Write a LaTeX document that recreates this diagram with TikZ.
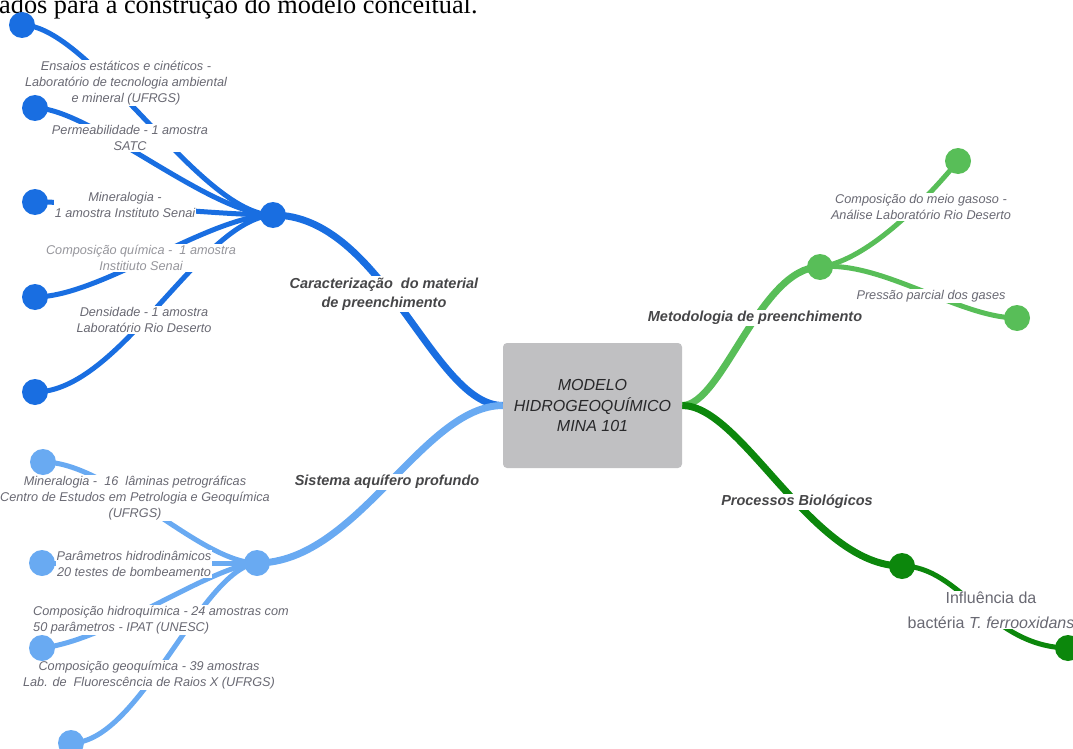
\documentclass[tikz,border=0pt]{standalone}
\usepackage{fontspec}
\setmainfont{Liberation Serif}
\setsansfont{Liberation Sans}
\definecolor{dblue}{RGB}{25,110,225}
\definecolor{lblue}{RGB}{105,170,242}
\definecolor{lgreen}{RGB}{88,190,88}
\definecolor{dgreen}{RGB}{12,135,12}
\definecolor{boxgray}{RGB}{192,192,194}
\definecolor{lblgray}{RGB}{105,105,115}
\definecolor{lightlbl}{RGB}{150,150,156}
\definecolor{brgray}{RGB}{70,70,72}
\definecolor{coretext}{RGB}{40,40,42}
\pgfdeclarelayer{bg}
\pgfsetlayers{bg,main}
\begin{document}
\begin{tikzpicture}[x=1pt,y=-1pt,
  bulb/.style={circle,fill=#1,minimum size=26pt,inner sep=0pt},
  leaflbl/.style={font=\sffamily\itshape\fontsize{12.7}{16}\selectfont,text=lblgray,align=center,fill=white,inner sep=1pt},
  brlbl/.style={font=\sffamily\bfseries\itshape\fontsize{14.5}{18.5}\selectfont,text=brgray,align=center,fill=white,inner sep=1.5pt},
  mainline/.style={line width=7pt,draw=#1},
  subline/.style={line width=5pt,draw=#1},
  corebox/.style={rounded corners=4pt,fill=boxgray,minimum width=179pt,minimum height=125pt,
    font=\sffamily\itshape\fontsize{16}{20.5}\selectfont,text=coretext,align=center}]
\useasboundingbox (0,0) rectangle (1073,749);

% header (cut off)
\node[anchor=base west,inner sep=0pt,font=\fontsize{26.3}{28}\selectfont] (hdr) at (-1,13.5) {ados para a construção do modelo conceitual.};

% central node
\node[corebox] (core) at (592.5,405.5) {MODELO\\HIDROGEOQUÍMICO\\MINA 101};

% labels
\node[leaflbl] (t1) at (126,83) {Ensaios estáticos e cinéticos -\\Laboratório de tecnologia ambiental\\e mineral (UFRGS)};
\node[leaflbl] (t2) at (130,138) {Permeabilidade - 1 amostra\\SATC};
\node[leaflbl] (t3) at (125,205) {Mineralogia -\\1 amostra Instituto Senai};
\node[leaflbl,text=lightlbl] (t4) at (141,258) {Composição química -~ 1 amostra\\Institiuto Senai};
\node[leaflbl] (t5) at (144,320) {Densidade - 1 amostra\\Laboratório Rio Deserto};
\node[brlbl] (b1) at (384,294) {Caracterização~ do material\\de preenchimento};

\node[leaflbl] (s1) at (135,498) {Mineralogia -~ 16~ lâminas petrográficas\\Centro de Estudos em Petrologia e Geoquímica\\(UFRGS)};
\node[leaflbl] (s2) at (134,564) {Parâmetros hidrodinâmicos\\20 testes de bombeamento};
\node[leaflbl,align=left,anchor=west] (s3) at (32,620) {Composição hidroquímica - 24 amostras com\\50 parâmetros - IPAT (UNESC)};
\node[leaflbl] (s4) at (149,675) {Composição geoquímica - 39 amostras\\Lab. de~ Fluorescência de Raios X (UFRGS)};
\node[brlbl] (b2) at (387,482) {Sistema aquífero profundo};

\node[brlbl] (b3) at (755,318) {Metodologia de preenchimento};
\node[leaflbl] (g1) at (921,207) {Composição do meio gasoso -\\Análise Laboratório Rio Deserto};
\node[leaflbl] (g2) at (931,296) {Pressão parcial dos gases};

\node[brlbl] (b4) at (797,502) {Processos Biológicos};
\node[leaflbl,font=\sffamily\fontsize{16}{25}\selectfont] (d1) at (991,610) {Influência da\\bactéria \textit{T. ferrooxidans}};

% hubs and leaves
\node[bulb=dblue] (h1) at (273,215) {};
\node[bulb=dblue] (l1) at (22,25) {};
\node[bulb=dblue] (l2) at (35,108) {};
\node[bulb=dblue] (l3) at (35,202) {};
\node[bulb=dblue] (l4) at (35,297) {};
\node[bulb=dblue] (l5) at (35,392) {};

\node[bulb=lblue] (h2) at (257,563) {};
\node[bulb=lblue] (la) at (43,462) {};
\node[bulb=lblue] (lb) at (42,563) {};
\node[bulb=lblue] (lc) at (42,648) {};
\node[bulb=lblue] (ld) at (71,743) {};

\node[bulb=lgreen] (h3) at (820,267) {};
\node[bulb=lgreen] (ga) at (958,161) {};
\node[bulb=lgreen] (gb) at (1017,318) {};

\node[bulb=dgreen] (h4) at (902,566) {};
\node[bulb=dgreen] (da) at (1068,648) {};

\begin{pgfonlayer}{bg}
\draw[mainline=dblue] (core.west) .. controls +(-70,0) and +(110,0) .. (h1.center);
\draw[mainline=lblue] (core.west) .. controls +(-80,0) and +(100,0) .. (h2.center);
\draw[mainline=lgreen] (core.east) .. controls +(40,0) and +(-60,0) .. (h3.center);
\draw[mainline=dgreen] (core.east) .. controls +(60,0) and +(-90,0) .. (h4.center);

\draw[subline=dblue] (h1.center) .. controls (200,215) and (90,25) .. (l1.center);
\draw[subline=dblue] (h1.center) .. controls (210,215) and (90,108) .. (l2.center);
\draw[subline=dblue] (h1.center) .. controls (220,215) and (100,202) .. (l3.center);
\draw[subline=dblue] (h1.center) .. controls (210,215) and (100,297) .. (l4.center);
\draw[subline=dblue] (h1.center) .. controls (200,220) and (120,392) .. (l5.center);

\draw[subline=lblue] (h2.center) .. controls (200,563) and (110,462) .. (la.center);
\draw[subline=lblue] (h2.center) .. controls (200,563) and (100,563) .. (lb.center);
\draw[subline=lblue] (h2.center) .. controls (210,566) and (110,640) .. (lc.center);
\draw[subline=lblue] (h2.center) .. controls (200,570) and (140,743) .. (ld.center);

\draw[subline=lgreen] (h3.center) .. controls (870,260) and (930,195) .. (ga.center);
\draw[subline=lgreen] (h3.center) .. controls (880,260) and (960,318) .. (gb.center);

\draw[subline=dgreen] (h4.center) .. controls (960,566) and (990,647) .. (da.center);
\end{pgfonlayer}
\end{tikzpicture}
\end{document}
